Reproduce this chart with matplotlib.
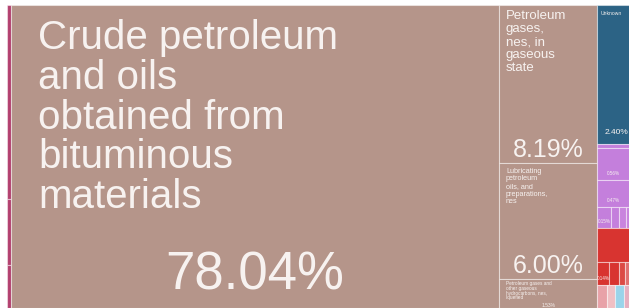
import matplotlib.pyplot as plt
from matplotlib.patches import Rectangle

plt.rcParams['font.family'] = ['Liberation Sans', 'DejaVu Sans']

# shares of total exports (%), one list per column, each column a list of rows
left_strip = [[0.41], [0.14], [0.09]]
main_col = [[78.04]]
second_col = [[8.19], [6.00], [1.53]]
third_col = [[2.40], [0.07], [0.56], [0.47], [0.15, 0.09, 0.07, 0.05],
             [0.59], [0.14, 0.12, 0.08, 0.06], [0.12, 0.10, 0.10, 0.08]]

main_name = "Crude petroleum\nand oils\nobtained from\nbituminous\nmaterials"
second_names = ["Petroleum\ngases,\nnes, in\ngaseous\nstate",
                "Lubricating\npetroleum\noils, and\npreparations,\nnes",
                "Petroleum gases and\nother gaseous\nhydrocarbons, nes,\nliquefied"]

brown = '#b5958a'
left_colors = ['#b3416f', '#b3416f', '#b3416f']
third_colors = [['#2c6385'], ['#c47fdc'], ['#c47fdc'], ['#c47fdc'],
                ['#c47fdc', '#c47fdc', '#c984de', '#c984de'],
                ['#d83430'], ['#d83430', '#d83430', '#dc4a45', '#e07070'],
                ['#e8a2a8', '#f0c0c4', '#9ad4ea', '#e6b0c0']]

W, H = 629, 308
TOP, BOTTOM = 5, 308
PX_PER_PCT = 1894.7  # pixel area per percent

fig = plt.figure(figsize=(W / 100, H / 100), dpi=100)
ax = fig.add_axes([0, 0, 1, 1])
ax.set_xlim(0, W)
ax.set_ylim(H, 0)
ax.axis('off')

height = BOTTOM - TOP
edge = (1, 1, 1, 0.45)


def draw_column(x, col, colors):
    total = sum(sum(r) for r in col)
    w = total * PX_PER_PCT / height
    y = TOP
    boxes = []
    for row, rc in zip(col, colors):
        rh = sum(row) / total * height
        xx = x
        for s, c in zip(row, rc):
            cw = s / sum(row) * w
            ax.add_patch(Rectangle((xx, y), cw, rh, facecolor=c,
                                   edgecolor=edge, lw=0.8))
            boxes.append((xx, y, cw, rh))
            xx += cw
        y += rh
    return x + w, boxes


x = 7
x, left_boxes = draw_column(x, left_strip, [[c] for c in left_colors])
x, main_boxes = draw_column(x, main_col, [[brown]])
x, second_boxes = draw_column(x, second_col, [[brown]] * 3)
x, third_boxes = draw_column(x, third_col, third_colors)

txt = '#f7f2f0'

# main block
bx, by, bw, bh = main_boxes[0]
ax.text(bx + 27, by + 14, main_name, color=txt, fontsize=29, va='top',
        ha='left', linespacing=1.06)
ax.text(bx + bw / 2, 290, f"{main_col[0][0]:.2f}%", color=txt, fontsize=38,
        ha='center', va='baseline')

# second column
name_sizes = [9.5, 5.2, 3.4]
name_spacing = [1.12, 1.12, 0.95]
pct_sizes = [18, 18, 3.6]
for (bx, by, bw, bh), name, row, ns, ls, ps in zip(second_boxes, second_names,
                                                  second_col, name_sizes,
                                                  name_spacing, pct_sizes):
    ax.text(bx + 7, by + (5 if ns > 4 else 2.5), name, color=txt, fontsize=ns,
            va='top', ha='left', linespacing=ls)
    ax.text(bx + bw / 2, by + bh - 6 if ps > 10 else by + bh - 1,
            f"{row[0]:.2f}%", color=txt, fontsize=ps, ha='center',
            va='baseline')

# third column labels
bx, by, bw, bh = third_boxes[0]
ax.text(bx + 3, by + 6, "Unknown", color=txt, fontsize=3.6, va='top')
ax.text(bx + bw - 2, by + bh - 10, "2.40%", color=txt, fontsize=6,
        ha='right', va='baseline')
for i, val in [(2, 0.56), (3, 0.47), (4, 0.15), (9, 0.14)]:
    bx, by, bw, bh = third_boxes[i]
    ax.text(bx + bw / 2, by + bh - 6, f"{val:.2f}%", color=txt,
            fontsize=3.3, ha='center', va='center')

fig.savefig('out.png', dpi=100, facecolor='white')
